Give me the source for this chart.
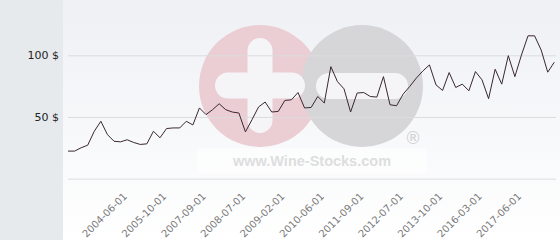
<!DOCTYPE html>
<html>
<head>
<meta charset="utf-8">
<script src="https://cdn.jsdelivr.net/npm/d3@7"></script>
<style>
  html, body { margin: 0; padding: 0; background: #fff; }
  svg { display: block; }
</style>
</head>
<body>
<div id="chart"></div>
<script>
// price per bottle, one value per observation (categorical x axis)
const prices = [
  22.3, 22.3, 25, 27.1, 38.4, 46.5, 35.7, 30.3, 29.8, 31.5,
  29.3, 27.7, 28.2, 38.4, 33.1, 40.6, 41.1, 41.1, 46.5, 43.5,
  57.3, 51.9, 55.9, 60.7, 55.9, 54, 53.2, 37.9, 47.8, 58.1,
  62.1, 54, 54.5, 63.4, 63.9, 69.8, 57.3, 57.7, 66.6, 61.3,
  90.8, 78.7, 72.8, 54, 69.4, 69.8, 66.6, 66.1, 82.7, 59.9,
  59.1, 68.5, 74.7, 81.5, 87.3, 92.2, 76, 71.5, 86, 73.9,
  76.6, 71.2, 86.8, 80.1, 64.8, 88.7, 76.6, 99.7, 82.7, 100.2,
  115.8, 115.8, 104.3, 86.3, 94.4,
];

// labelled observations and their dates
const tickIdx = [9, 15, 21, 27, 33, 39, 45, 51, 57, 63, 69];
const tickLabels = [
  "2004-06-01", "2005-10-01", "2007-09-01", "2008-07-01", "2009-02-01",
  "2010-06-01", "2011-09-01", "2012-07-01", "2013-10-01", "2016-03-01",
  "2017-06-01",
];

const yTicks = [0, 50, 100];

const width = 560;
const height = 240;
const panelW = 63;
const plot = { left: 68, right: 556, top: 55.3, bottom: 178.6 };

const svg = d3
  .select("#chart")
  .append("svg")
  .attr("width", width)
  .attr("height", height)
  .attr("viewBox", [0, 0, width, height]);

// backgrounds
const grad = svg
  .append("defs")
  .append("linearGradient")
  .attr("id", "plot-bg")
  .attr("x1", "0%")
  .attr("y1", "0%")
  .attr("x2", "0%")
  .attr("y2", "100%");
grad.append("stop").attr("offset", "0%").attr("stop-color", "#eef0f4");
grad.append("stop").attr("offset", "100%").attr("stop-color", "#ffffff");

svg
  .append("rect")
  .attr("width", width)
  .attr("height", height)
  .attr("fill", "url(#plot-bg)");

svg
  .append("rect")
  .attr("width", panelW)
  .attr("height", height)
  .attr("fill", "#e6eaed");

// watermark logo
const wm = svg.append("g").attr("class", "watermark");
wm.append("rect")
  .attr("x", 197)
  .attr("y", 148)
  .attr("width", 230)
  .attr("height", 25)
  .attr("fill", "#ffffff")
  .attr("opacity", 0.5);
wm.append("circle")
  .attr("cx", 260)
  .attr("cy", 86)
  .attr("r", 61)
  .attr("fill", "#ebcdd4");
wm.append("circle")
  .attr("cx", 362)
  .attr("cy", 86)
  .attr("r", 61)
  .attr("fill", "#d6d6d8");
wm.append("rect") // plus, vertical
  .attr("x", 247.5)
  .attr("y", 38)
  .attr("width", 25)
  .attr("height", 95)
  .attr("rx", 12.5)
  .attr("fill", "#f5f5f8");
wm.append("rect") // plus, horizontal
  .attr("x", 215)
  .attr("y", 72.5)
  .attr("width", 90)
  .attr("height", 26)
  .attr("rx", 13)
  .attr("fill", "#f5f5f8");
wm.append("rect") // minus
  .attr("x", 316)
  .attr("y", 73)
  .attr("width", 92)
  .attr("height", 26)
  .attr("rx", 13)
  .attr("fill", "#f5f5f8");
wm.append("text")
  .attr("x", 413)
  .attr("y", 144)
  .attr("text-anchor", "middle")
  .style("font", "17px 'DejaVu Sans', sans-serif")
  .style("fill", "#d2d2d4")
  .text("®");
wm.append("text")
  .attr("x", 312)
  .attr("y", 166)
  .attr("text-anchor", "middle")
  .style("font", "bold 14.5px 'Liberation Sans', Arial, sans-serif")
  .style("fill", "#dedede")
  .text("www.Wine-Stocks.com");

// scales
const x = d3
  .scalePoint()
  .domain(d3.range(prices.length))
  .range([plot.left, 554.3]);

const y = d3
  .scaleLinear()
  .domain([0, 100])
  .range([plot.bottom, plot.top]);

// y axis + grid
const yAxis = d3
  .axisLeft(y)
  .tickValues(yTicks)
  .tickSize(-(plot.right - plot.left))
  .tickPadding(9)
  .tickFormat((d) => (d === 0 ? "" : `${d} $`));

const gy = svg
  .append("g")
  .attr("class", "y-axis")
  .attr("transform", `translate(${plot.left},0)`)
  .call(yAxis);
gy.select(".domain").remove();
gy.selectAll("line").attr("stroke", "#dcdcdf").attr("stroke-width", 1);
gy.selectAll("text")
  .style("font", "11px 'DejaVu Sans', sans-serif")
  .style("fill", "#222");

// x axis, rotated labels
const xAxis = d3
  .axisBottom(x)
  .tickValues(tickIdx)
  .tickSize(0)
  .tickFormat((d) => tickLabels[tickIdx.indexOf(d)]);

const gx = svg
  .append("g")
  .attr("class", "x-axis")
  .attr("transform", "translate(0,197)")
  .call(xAxis);
gx.select(".domain").remove();
gx.selectAll("text")
  .attr("y", 0)
  .attr("dy", 0)
  .attr("text-anchor", "end")
  .attr("transform", "rotate(-45)")
  .style("font", "10px 'DejaVu Sans', sans-serif")
  .style("fill", "#7a7a7a");

// price line
const line = d3
  .line()
  .x((d, i) => x(i))
  .y((d) => y(d));

svg
  .append("path")
  .datum(prices)
  .attr("fill", "none")
  .attr("stroke", "#3a2730")
  .attr("stroke-width", 1)
  .attr("stroke-linejoin", "round")
  .attr("d", line);
</script>
</body>
</html>
